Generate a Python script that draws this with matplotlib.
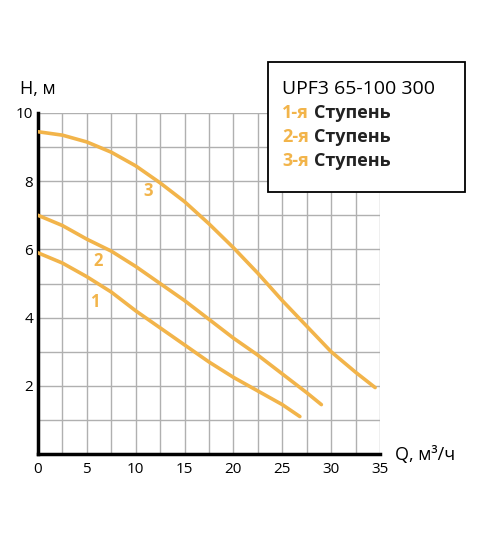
import matplotlib
matplotlib.use("Agg")
import matplotlib.pyplot as plt
from matplotlib.patches import Rectangle

plt.rcParams['font.family'] = ['Open Sans', 'DejaVu Sans']

# Q, m3/h and H, m
q1 = [0, 2.5, 5, 7.5, 10, 12.5, 15, 17.5, 20, 22.5, 25, 26.8]
h1 = [5.9, 5.6, 5.2, 4.75, 4.2, 3.7, 3.2, 2.7, 2.25, 1.85, 1.45, 1.1]
q2 = [0, 2.5, 5, 7.5, 10, 12.5, 15, 17.5, 20, 22.5, 25, 27.5, 29]
h2 = [7.0, 6.7, 6.3, 5.95, 5.5, 5.0, 4.5, 3.95, 3.4, 2.9, 2.35, 1.8, 1.45]
q3 = [0, 2.5, 5, 7.5, 10, 12.5, 15, 17.5, 20, 22.5, 25, 27.5, 30, 32.5, 34.5]
h3 = [9.45, 9.35, 9.15, 8.85, 8.45, 7.95, 7.4, 6.75, 6.05, 5.3, 4.5, 3.75, 3.0, 2.4, 1.95]
labels = ["1", "2", "3"]
label_pos = [(5.8, 4.45), (6.1, 5.65), (11.3, 7.7)]
legend_title = "UPF3 65-100 300"
legend_rows = ["1-я", "2-я", "3-я"]

orange = "#f2b44a"
fig = plt.figure(figsize=(5, 5.38), dpi=100)
ax = fig.add_axes([0.076, 0.156, 0.684, 0.634])

for q, h in [(q1, h1), (q2, h2), (q3, h3)]:
    ax.plot(q, h, color=orange, lw=2.6, solid_capstyle='round', zorder=3)
for lab, (x, y) in zip(labels, label_pos):
    ax.text(x, y, lab, color=orange, fontsize=12, fontweight='bold', ha='center', va='center')

ax.set_xlim(0, 35)
ax.set_ylim(0, 10)
ax.set_xticks(range(0, 36, 5))
ax.set_yticks([2, 4, 6, 8, 10])
ax.set_xticks([x * 2.5 for x in range(15)], minor=True)
ax.set_yticks(range(11), minor=True)
ax.grid(True, which='both', color='#b0b0b0', lw=1.0)
ax.tick_params(which='both', length=0, labelsize=11)
ax.tick_params(axis='x', pad=6)
for s in ['top', 'right']:
    ax.spines[s].set_visible(False)
for s in ['left', 'bottom']:
    ax.spines[s].set_linewidth(2.5)

fig.text(0.04, 0.825, "H, м", fontsize=13)
fig.text(0.79, 0.145, "Q, м³/ч", fontsize=13)

# legend box
fig.patches.append(Rectangle((0.536, 0.643), 0.394, 0.242, transform=fig.transFigure,
                             fill=True, fc='white', ec='black', lw=1.3, zorder=5))
fig.text(0.564, 0.835, legend_title, fontsize=14, va='center', zorder=6)
for i, r in enumerate(legend_rows):
    y = 0.79 - i * 0.045
    fig.text(0.564, y, r, fontsize=13, fontweight='bold', color=orange, va='center', zorder=6)
    fig.text(0.628, y, "Ступень", fontsize=13, fontweight='bold', color='#222222', va='center', zorder=6)

fig.savefig("out.png")
